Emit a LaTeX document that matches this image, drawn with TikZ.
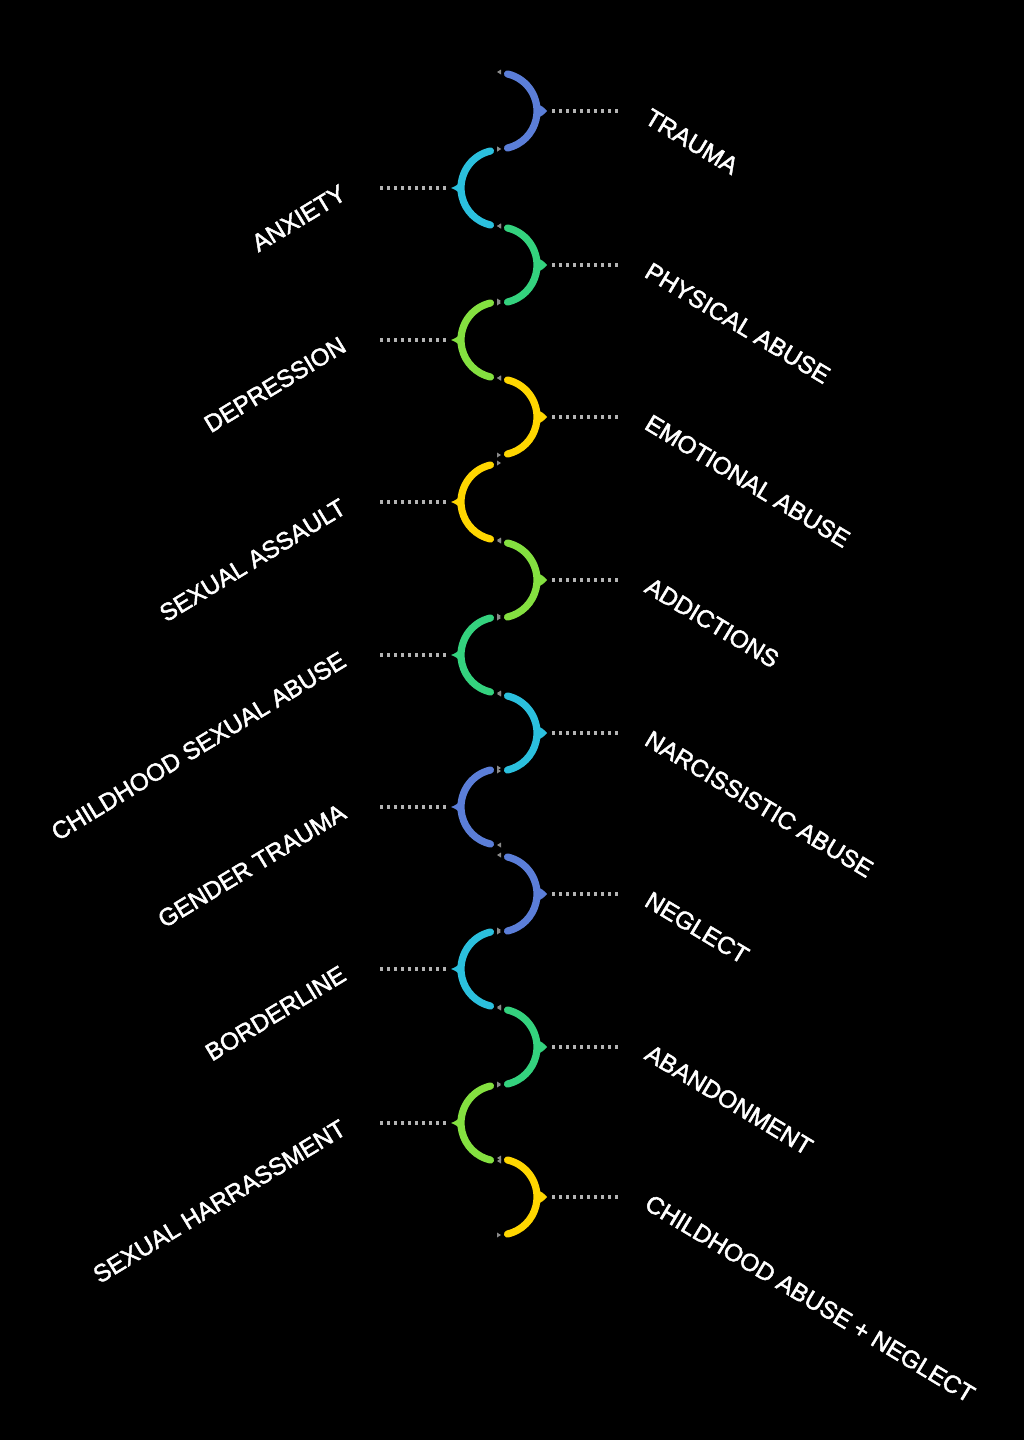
\documentclass[tikz,border=0pt]{standalone}
\usepackage{fontspec}
\setmainfont{Liberation Sans}[FakeBold=2]
\usetikzlibrary{calc}
\definecolor{cblue}{HTML}{5B7ED8}
\definecolor{ccyan}{HTML}{2BC0DE}
\definecolor{cgreen}{HTML}{34D27E}
\definecolor{clime}{HTML}{84E040}
\definecolor{cyellow}{HTML}{FFD600}
\definecolor{dotgrey}{HTML}{B4B4B4}
\definecolor{jointgrey}{HTML}{8A8A8A}
\begin{document}
\begin{tikzpicture}[x=0.5pt,y=0.5pt,
  arcline/.style={line width=3.6pt, line cap=round},
  dotline/.style={draw=dotgrey, line width=1.6pt, dash pattern=on 1.6pt off 1.9pt},
  lbl/.style={text=white, font=\fontsize{12.2}{14}\selectfont, inner sep=0pt},
  jointmark/.style={fill=jointgrey}]
\fill[black] (0,0) rectangle (1024,-1440);
\useasboundingbox (0,0) rectangle (1024,-1440);
\foreach \i/\Y/\s/\c/\t in {
  1/111/1/cblue/TRAUMA,
  2/188/-1/ccyan/ANXIETY,
  3/265/1/cgreen/PHYSICAL ABUSE,
  4/340/-1/clime/DEPRESSION,
  5/417/1/cyellow/EMOTIONAL ABUSE,
  6/502/-1/cyellow/SEXUAL ASSAULT,
  7/580/1/clime/ADDICTIONS,
  8/655/-1/cgreen/CHILDHOOD SEXUAL ABUSE,
  9/733/1/ccyan/NARCISSISTIC ABUSE,
  10/807/-1/cblue/GENDER TRAUMA,
  11/894/1/cblue/NEGLECT,
  12/969/-1/ccyan/BORDERLINE,
  13/1047/1/cgreen/ABANDONMENT,
  14/1123/-1/clime/SEXUAL HARRASSMENT,
  15/1197/1/cyellow/CHILDHOOD ABUSE + NEGLECT}{
  % coordinates
  \coordinate (start\i) at ({499+38*cos(90-13*\s)},{-\Y+38*sin(90-13*\s)});
  \coordinate (apex\i) at ({499+38*\s},{-\Y});
  \coordinate (ds\i) at ({499+53*\s},{-\Y});
  \coordinate (de\i) at ({499+121*\s},{-\Y});
  \coordinate (jt\i) at (499,{-\Y+39});
  \coordinate (jb\i) at (499,{-\Y-38});
  % arc
  \draw[arcline,\c] (start\i) arc[start angle={90-13*\s}, end angle={90-167*\s}, radius=38];
  % apex spike
  \fill[\c] ($(apex\i)+(0,7)$) to[bend left=15] ($(apex\i)+(10*\s,0)$) to[bend left=15] ($(apex\i)+(0,-7)$) -- cycle;
  % joint markers
  \fill[jointmark] ($(jt\i)+(2*\s,2.5)$) -- ($(jt\i)+(-2*\s,0)$) -- ($(jt\i)+(2*\s,-2.5)$) -- cycle;
  \fill[jointmark] ($(jb\i)+(-2*\s,2.5)$) -- ($(jb\i)+(2*\s,0)$) -- ($(jb\i)+(-2*\s,-2.5)$) -- cycle;
  % dotted connector
  \draw[dotline] (ds\i) -- (de\i);
  % label
  \ifnum\s>0
    \node[lbl, anchor=base west, rotate=-31] (lbl\i) at (643,{-\Y-11}) {\t};
  \else
    \node[lbl, anchor=base east, rotate=31.3] (lbl\i) at (348,{-\Y-10}) {\t};
  \fi
}
\end{tikzpicture}
\end{document}
